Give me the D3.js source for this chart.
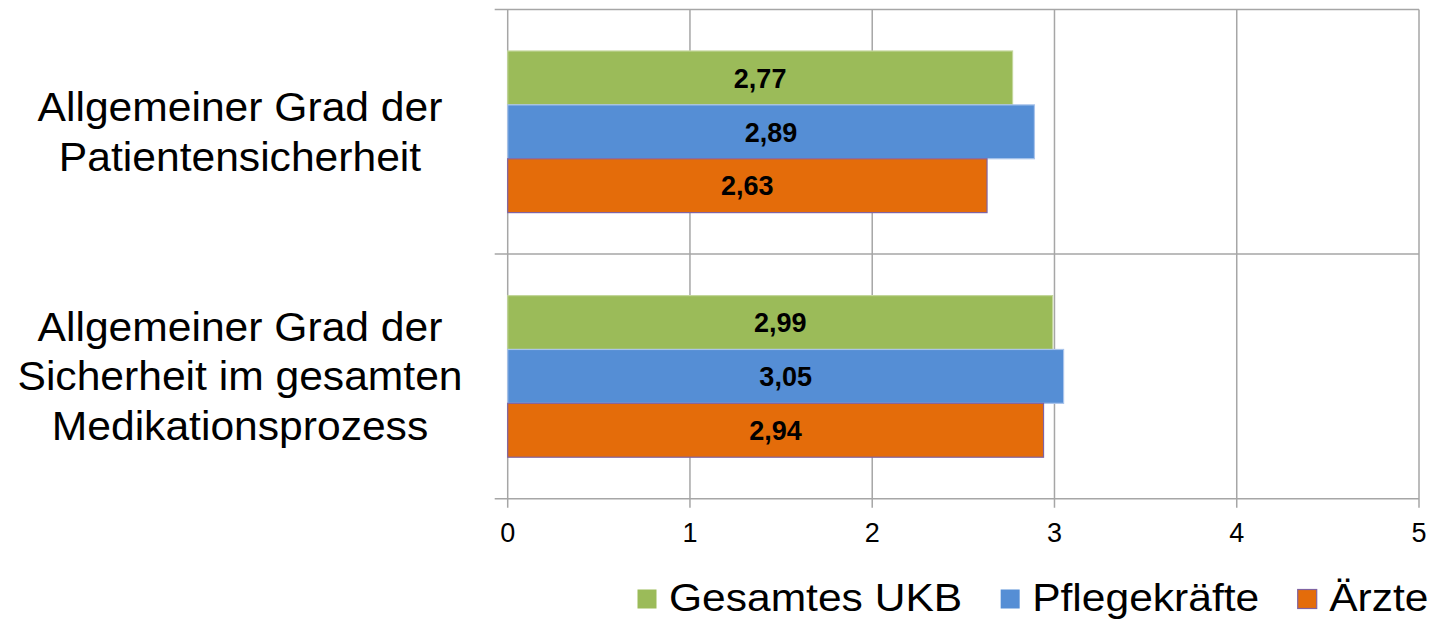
<!DOCTYPE html>
<html>
<head>
<meta charset="utf-8">
<script src="https://cdn.jsdelivr.net/npm/d3@7"></script>
<style>
  html, body { margin: 0; padding: 0; background: #fff; }
  svg { display: block; font-family: "Liberation Sans", Arial, sans-serif; }
</style>
</head>
<body>
<script>
// chart data
const categories = [
  ['Allgemeiner Grad der', 'Patientensicherheit'],
  ['Allgemeiner Grad der', 'Sicherheit im gesamten', 'Medikationsprozess']
];
const seriesNames = ['Gesamtes UKB', 'Pflegekräfte', 'Ärzte'];
const gesamtValues = [2.77, 2.99];
const pflegeValues = [2.89, 3.05];
const aerzteValues = [2.63, 2.94];
const xTicks = [0, 1, 2, 3, 4, 5];

const seriesValues = [gesamtValues, pflegeValues, aerzteValues];
const fills = ['#9bbb59', '#558ed5', '#e46c0a'];
const strokes = ['#c3d69b', '#a9c4eb', '#8064a2'];

const width = 1433, height = 624;
const plot = { left: 507.7, right: 1419, top: 9.5, bottom: 498.7 };
const gridColor = '#a6a6a6';

const svg = d3.select('body').append('svg')
  .attr('width', width)
  .attr('height', height);

const x = d3.scaleLinear().domain([0, 5]).range([plot.left, plot.right]);
const y = d3.scaleBand().domain(d3.range(categories.length)).range([plot.top, plot.bottom]);
const ySub = d3.scaleBand().domain(d3.range(seriesNames.length))
  .range([0, y.bandwidth()])
  .paddingOuter(0.77);

// vertical gridlines + bottom ticks
svg.append('g').selectAll('line')
  .data(xTicks)
  .join('line')
  .attr('x1', d => x(d)).attr('x2', d => x(d))
  .attr('y1', plot.top).attr('y2', plot.bottom + 9)
  .attr('stroke', gridColor)
  .attr('stroke-width', 1.5);

// horizontal lines: top, category separator, bottom (with left ticks)
const hLines = [plot.top].concat(categories.map((c, i) => y(i) + y.bandwidth()));
svg.append('g').selectAll('line')
  .data(hLines)
  .join('line')
  .attr('x1', plot.left - 13).attr('x2', plot.right)
  .attr('y1', d => d).attr('y2', d => d)
  .attr('stroke', gridColor)
  .attr('stroke-width', 1.5);

// x tick labels
svg.append('g').selectAll('text')
  .data(xTicks)
  .join('text')
  .attr('x', d => x(d))
  .attr('y', 541.5)
  .attr('text-anchor', 'middle')
  .style('font-size', '27px')
  .style('fill', '#000')
  .text(d => d);

// bars
const groups = svg.append('g').selectAll('g')
  .data(categories.map((c, i) => i))
  .join('g')
  .attr('transform', i => `translate(0,${y(i)})`);

groups.selectAll('rect')
  .data(i => seriesValues.map((vals, s) => ({ s, v: vals[i] })))
  .join('rect')
  .attr('x', x(0))
  .attr('y', d => ySub(d.s))
  .attr('width', d => x(d.v) - x(0))
  .attr('height', ySub.bandwidth())
  .attr('fill', d => fills[d.s])
  .attr('stroke', d => strokes[d.s])
  .attr('stroke-width', 1.2);

groups.selectAll('text.val')
  .data(i => seriesValues.map((vals, s) => ({ s, v: vals[i] })))
  .join('text')
  .attr('class', 'val')
  .attr('x', d => (x(d.v) + x(0)) / 2)
  .attr('y', d => ySub(d.s) + ySub.bandwidth() / 2)
  .attr('dy', '0.36em')
  .attr('text-anchor', 'middle')
  .style('font-size', '27px')
  .style('font-weight', 'bold')
  .style('fill', '#000')
  .text(d => d.v.toFixed(2).replace('.', ','));

// category labels (source font runs a little wider than Liberation Sans)
const lineH = 49.5;
svg.append('g').selectAll('text')
  .data(categories)
  .join('text')
  .attr('text-anchor', 'middle')
  .attr('transform', 'translate(240,0) scale(1.065,1)')
  .style('font-size', '40px')
  .style('fill', '#000')
  .each(function (lines, i) {
    const cy = y(i) + y.bandwidth() / 2;
    const t = d3.select(this);
    lines.forEach((ln, k) => {
      t.append('tspan')
        .attr('x', 0)
        .attr('y', cy + (k - (lines.length - 1) / 2) * lineH)
        .attr('dy', '0.35em')
        .text(ln);
    });
  });

// legend
const legendScale = 1.12;
const legend = svg.append('g');
const items = legend.selectAll('g')
  .data(seriesNames)
  .join('g');
items.append('rect')
  .attr('x', 0.5)
  .attr('width', 19).attr('height', 19)
  .attr('y', 589.5)
  .attr('fill', (d, i) => fills[i])
  .attr('stroke', (d, i) => i === 2 ? strokes[i] : 'none')
  .attr('stroke-width', 1.2);
items.append('text')
  .attr('transform', `translate(32,611) scale(${legendScale},1)`)
  .style('font-size', '38px')
  .style('fill', '#000')
  .text(d => d);

let cursor = 637;
items.each(function () {
  const g = d3.select(this);
  g.attr('transform', `translate(${cursor},0)`);
  const w = g.select('text').node().getComputedTextLength() * legendScale;
  cursor += 32 + w + 38;
});
</script>
</body>
</html>
